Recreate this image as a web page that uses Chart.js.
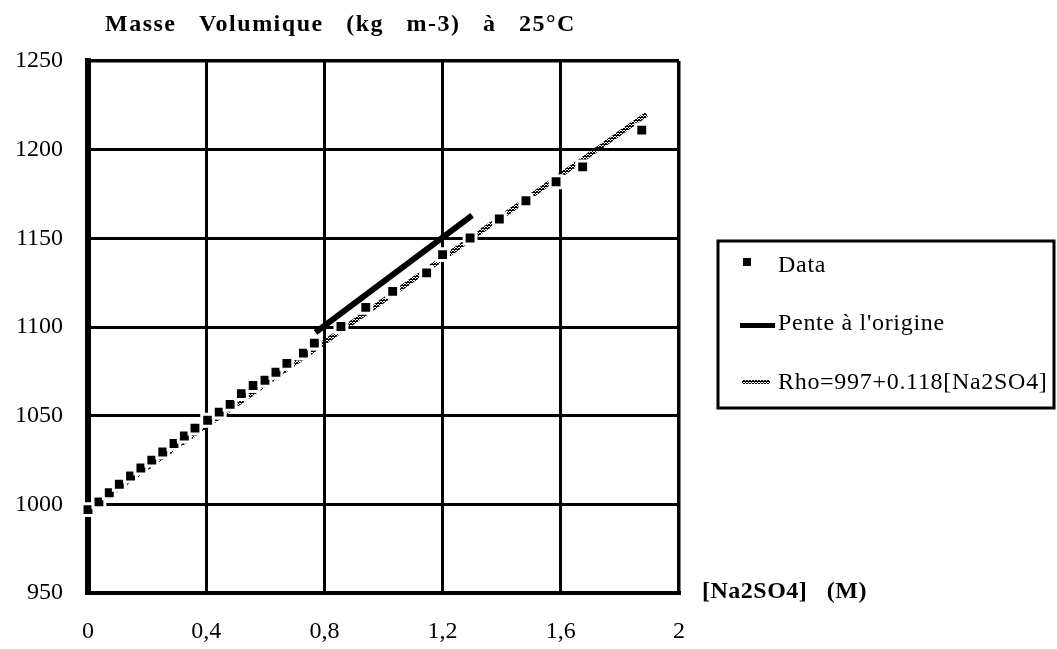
<!DOCTYPE html>
<html><head><meta charset="utf-8">
<script src="https://cdn.jsdelivr.net/npm/chart.js@4.4.1/dist/chart.umd.min.js"></script>
<style>html,body{margin:0;padding:0;background:#fff}#wrap{width:1057px;height:649px;position:relative}</style>
</head><body><div id="wrap"><canvas id="c" width="1057" height="649" style="width:1057px;height:649px"></canvas></div>
<script>
const titleText = "Masse   Volumique   (kg   m-3)   à   25°C";
const xAxisLabel = "[Na2SO4]   (M)";
const xTickLabels = ["0", "0,4", "0,8", "1,2", "1,6", "2"];
const yTickLabels = ["950", "1000", "1050", "1100", "1150", "1200", "1250"];
const seriesNames = ["Data", "Pente à l'origine", "Rho=997+0.118[Na2SO4]"];
const dataX = [0, 0.037, 0.072, 0.106, 0.144, 0.179, 0.216, 0.253, 0.291, 0.326, 0.362, 0.405, 0.444, 0.481, 0.519, 0.559, 0.599, 0.636, 0.673, 0.729, 0.766, 0.856, 0.940, 1.031, 1.146, 1.200, 1.293, 1.392, 1.482, 1.584, 1.674, 1.874];
const dataY = [997, 1001.4, 1006.5, 1011.3, 1016, 1020.5, 1024.9, 1029.5, 1034.3, 1038.5, 1043, 1047.4, 1052, 1056.4, 1062.4, 1067, 1070, 1074.5, 1079.5, 1085.3, 1090.9, 1100.3, 1111.1, 1120.1, 1130.5, 1140.8, 1150.2, 1160.9, 1171.2, 1181.9, 1190.3, 1211];
const penteX = [0.77, 1.30];
const penteY = [1097, 1163];
const fitX = [0, 1.89];
const fitY = [997, 1220];

const SERIF = "'Liberation Serif', 'DejaVu Serif', serif";

// halftone pattern for fitted line
const pc = document.createElement('canvas'); pc.width = 3; pc.height = 3;
const pctx = pc.getContext('2d');
pctx.fillStyle = '#000';
[[0,0],[1,1],[2,2],[2,0],[0,2],[1,0]].forEach(p => pctx.fillRect(p[0], p[1], 1, 1));
const hatch = pctx.createPattern(pc, 'repeat');

const toPts = (xs, ys) => xs.map((x, i) => ({x, y: ys[i]}));

const decorPlugin = {
  id: 'decor',
  afterDraw(chart) {
    const ctx = chart.ctx;
    const a = chart.chartArea;
    ctx.save();
    ctx.fillStyle = '#000';
    ctx.textAlign = 'left'; ctx.textBaseline = 'middle';
    ctx.font = "bold 24px " + SERIF;
    ctx.letterSpacing = "1.5px";
    ctx.fillText(titleText, 105, 25);
    ctx.letterSpacing = "0.5px";
    ctx.fillText(xAxisLabel, 702, a.bottom - 1);
    const bx = 718, by = 241, bw = 336, bh = 167;
    ctx.lineWidth = 3; ctx.strokeStyle = '#000';
    ctx.strokeRect(bx, by, bw, bh);
    ctx.font = "24px " + SERIF;
    ctx.letterSpacing = "0.7px";
    const rows = [266, 324, 383];
    ctx.fillRect(743, rows[0] - 8, 8, 8);
    ctx.fillText(seriesNames[0], 778, rows[0]);
    ctx.fillRect(740, rows[1] - 1, 35, 5);
    ctx.fillText(seriesNames[1], 778, rows[1]);
    ctx.fillStyle = hatch;
    ctx.fillRect(742, rows[2] - 3, 28, 4);
    ctx.fillStyle = '#000';
    ctx.fillText(seriesNames[2], 778, rows[2]);
    ctx.restore();
  }
};

new Chart(document.getElementById('c'), {
  type: 'scatter',
  data: {
    datasets: [
      { label: seriesNames[2], data: toPts(fitX, fitY), showLine: true, borderColor: hatch, borderWidth: 5, pointRadius: 0, order: 3 },
      { label: seriesNames[1], data: toPts(penteX, penteY), showLine: true, borderColor: '#000', borderWidth: 6, pointRadius: 0, order: 0 },
      { label: seriesNames[0], data: toPts(dataX, dataY), showLine: false, clip: false, pointStyle: 'rect', pointRadius: 8.4, pointBorderWidth: 3, backgroundColor: '#000', borderColor: '#fff', order: 1 }
    ]
  },
  options: {
    responsive: false, animation: false, devicePixelRatio: 1,
    layout: { padding: { left: 0, top: 61, right: 378, bottom: 0 } },
    plugins: { legend: { display: false }, title: { display: false }, tooltip: { enabled: false } },
    scales: {
      x: {
        type: 'linear', min: 0, max: 2,
        afterBuildTicks: s => { s.ticks = xTickLabels.map(t => ({ value: parseFloat(t.replace(',', '.')) })); },
        ticks: { callback: (v, i) => xTickLabels[i], font: { family: SERIF, size: 24 }, color: '#000', padding: 24, maxRotation: 0, autoSkip: false },
        grid: { color: '#000', lineWidth: c => (c.index === 5 ? 3.5 : 3), drawTicks: false },
        border: { display: true, color: '#000', width: 4 },
        afterFit: s => { s.height = 649 - 593; }
      },
      y: {
        type: 'linear', min: 950, max: 1250,
        afterBuildTicks: s => { s.ticks = yTickLabels.map(t => ({ value: parseFloat(t) })); },
        ticks: { callback: (v, i) => yTickLabels[i], font: { family: SERIF, size: 24 }, color: '#000', padding: 25, autoSkip: false },
        grid: { color: '#000', lineWidth: c => (c.index === 6 ? 3.5 : 3), drawTicks: false },
        border: { display: true, color: '#000', width: 6 },
        afterFit: s => { s.width = 88; }
      }
    }
  },
  plugins: [decorPlugin]
});
</script></body></html>
